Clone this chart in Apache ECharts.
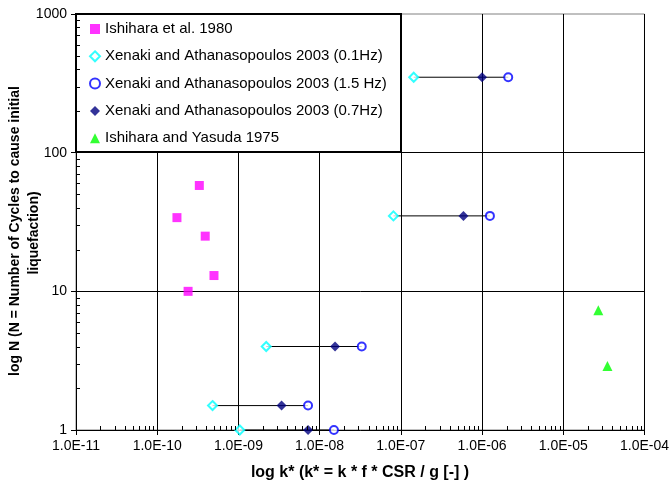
<!DOCTYPE html>
<html>
<head>
<meta charset="utf-8">
<script src="https://cdn.jsdelivr.net/npm/echarts@6/dist/echarts.min.js"></script>
<style>
html,body{margin:0;padding:0;background:#fff;}
#chart{width:672px;height:495px;}
</style>
</head>
<body>
<div id="chart"></div>
<script>
// ---- data ----
var ishiharaX = [3.3e-10, 1.75e-10, 3.9e-10, 5.0e-10, 2.4e-10];
var ishiharaN = [58, 34, 25, 13, 10];

var xenakiN = [350, 35, 4, 1.5, 1];
var xen01X = [1.44e-7, 8.1e-8, 2.2e-9, 4.8e-10, 1.04e-9];   // 0.1 Hz
var xen15X = [2.1e-6, 1.25e-6, 3.3e-8, 7.2e-9, 1.5e-8];     // 1.5 Hz
var xen07X = [1.0e-6, 5.9e-7, 1.55e-8, 3.4e-9, 7.2e-9];     // 0.7 Hz

var yasudaX = [2.7e-5, 3.5e-5];
var yasudaN = [7.3, 2.9];

var seriesNames = [
  'Ishihara et al. 1980',
  'Xenaki and Athanasopoulos 2003 (0.1Hz)',
  'Xenaki and Athanasopoulos 2003 (1.5 Hz)',
  'Xenaki and Athanasopoulos 2003 (0.7Hz)',
  'Ishihara and Yasuda 1975'
];
var xMin = 1e-11, xMax = 1e-4, yMin = 1, yMax = 1000;
var xTitle = 'log k* (k* = k * f * CSR / g [-] )';
var yTitle1 = 'log N (N = Number of Cycles to cause initial';
var yTitle2 = 'liquefaction)';

// ---- helpers ----
function zip(xs, ys) { return xs.map(function (x, i) { return [x, ys[i]]; }); }
function sci(v) {
  var e = Math.round(Math.log10(v));
  var a = Math.abs(e);
  return '1.0E' + (e < 0 ? '-' : '+') + (a < 10 ? '0' + a : '' + a);
}
// log-style minor tick positions (2..9 within each decade)
var xMinor = [], yMinor = [];
for (var d = -11; d < -4; d++) for (var m = 2; m <= 9; m++) xMinor.push([m * Math.pow(10, d), 1]);
for (var d2 = 0; d2 < 3; d2++) for (var m2 = 2; m2 <= 9; m2++) yMinor.push([1e-11, m2 * Math.pow(10, d2)]);

var FONT = '"Liberation Sans", Arial, sans-serif';

var series = [];
// connecting lines for each Xenaki row
xenakiN.forEach(function (n, i) {
  var xs = [xen01X[i], xen15X[i], xen07X[i]];
  series.push({
    type: 'line', name: 'row' + i, silent: true, z: 1,
    data: [[Math.min.apply(null, xs), n], [Math.max.apply(null, xs), n]],
    symbol: 'none', lineStyle: { color: '#000', width: 1 }, animation: false
  });
});
series.push({
  type: 'scatter', name: seriesNames[0], data: zip(ishiharaX, ishiharaN),
  symbol: 'rect', symbolSize: 9, itemStyle: { color: '#FF00FF' }, z: 3
});
series.push({
  type: 'scatter', name: seriesNames[1], data: zip(xen01X, xenakiN),
  symbol: 'emptyDiamond', symbolSize: 9, itemStyle: { color: '#00FFFF', borderColor: '#00FFFF', borderWidth: 1 }, z: 3
});
series.push({
  type: 'scatter', name: seriesNames[2], data: zip(xen15X, xenakiN),
  symbol: 'emptyCircle', symbolSize: 8, itemStyle: { color: '#0000FF', borderColor: '#0000FF', borderWidth: 1 }, z: 3
});
series.push({
  type: 'scatter', name: seriesNames[3], data: zip(xen07X, xenakiN),
  symbol: 'diamond', symbolSize: 10, itemStyle: { color: '#000080' }, z: 4
});
series.push({
  type: 'scatter', name: seriesNames[4], data: zip(yasudaX, yasudaN),
  symbol: 'triangle', symbolSize: 10, itemStyle: { color: '#00FF00' }, z: 3
});
// minor ticks (axis decoration)
series.push({
  type: 'custom', name: 'xminor', silent: true, z: 5, data: xMinor, clip: false,
  renderItem: function (params, api) {
    var p = api.coord([api.value(0), api.value(1)]);
    var x = Math.round(p[0]) + 0.5;
    return { type: 'line', shape: { x1: x, y1: p[1], x2: x, y2: p[1] - 4 }, style: { stroke: '#000', lineWidth: 1 } };
  }
});
series.push({
  type: 'custom', name: 'yminor', silent: true, z: 5, data: yMinor, clip: false,
  renderItem: function (params, api) {
    var p = api.coord([api.value(0), api.value(1)]);
    var y = Math.round(p[1]) + 0.5;
    return { type: 'line', shape: { x1: p[0], y1: y, x2: p[0] + 4, y2: y }, style: { stroke: '#000', lineWidth: 1 } };
  }
});

var chart = echarts.init(document.getElementById('chart'), null, { renderer: 'canvas' });
chart.setOption({
  animation: false,
  backgroundColor: '#fff',
  grid: {
    left: 76, right: 26, top: 14, bottom: 65,
    show: true, borderColor: '#808080', borderWidth: 1, backgroundColor: 'transparent'
  },
  xAxis: {
    type: 'log', logBase: 10, min: xMin, max: xMax,
    axisLine: { show: true, onZero: false, lineStyle: { color: '#000', width: 1 } },
    axisTick: { show: true, inside: false, length: 5, lineStyle: { color: '#000' } },
    axisLabel: { formatter: sci, color: '#000', fontSize: 14, fontFamily: FONT, margin: 9 },
    splitLine: { show: true, showMinLine: false, showMaxLine: false, lineStyle: { color: '#000', width: 1 } },
    minorTick: { show: false }
  },
  yAxis: {
    type: 'log', logBase: 10, min: yMin, max: yMax,
    axisLine: { show: true, onZero: false, lineStyle: { color: '#000', width: 1 } },
    axisTick: { show: true, inside: false, length: 5, lineStyle: { color: '#000' } },
    axisLabel: { formatter: function (v) { return String(Math.round(v)); }, color: '#000', fontSize: 14, fontFamily: FONT, margin: 9 },
    splitLine: { show: true, showMinLine: false, showMaxLine: false, lineStyle: { color: '#000', width: 1 } }
  },
  legend: {
    data: seriesNames, orient: 'vertical', left: 89, top: 21, z: 10,
    itemWidth: 10, itemHeight: 10, itemGap: 11.3, padding: 0,
    textStyle: { color: '#000', fontSize: 15, fontFamily: FONT, lineHeight: 16 },
    selectedMode: false
  },
  graphic: [
    { type: 'rect', z: 3, shape: { x: 76, y: 14, width: 325, height: 138 },
      style: { fill: '#fff', stroke: '#000', lineWidth: 2 } },
    { type: 'text', z: 10, x: 15, y: 231, rotation: Math.PI / 2,
      style: { text: yTitle1, fontSize: 14, fontWeight: 'bold', fontFamily: FONT, fill: '#000',
               align: 'center', verticalAlign: 'middle' } },
    { type: 'text', z: 10, x: 34, y: 233, rotation: Math.PI / 2,
      style: { text: yTitle2, fontSize: 14, fontWeight: 'bold', fontFamily: FONT, fill: '#000',
               align: 'center', verticalAlign: 'middle' } },
    { type: 'text', z: 10, x: 360, y: 473,
      style: { text: xTitle, fontSize: 16, fontWeight: 'bold', fontFamily: FONT, fill: '#000',
               align: 'center', verticalAlign: 'middle' } }
  ],
  series: series
});
</script>
</body>
</html>
